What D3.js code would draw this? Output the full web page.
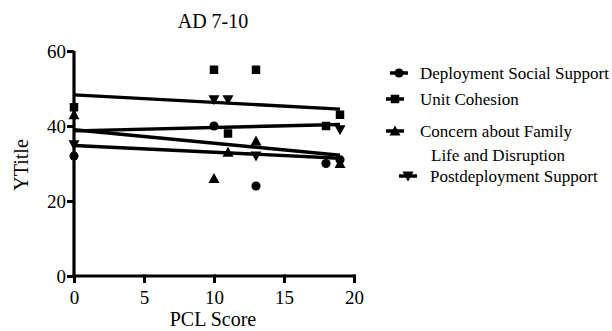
<!DOCTYPE html>
<html>
<head>
<meta charset="utf-8">
<script src="https://cdn.jsdelivr.net/npm/d3@7"></script>
<style>
  body { margin: 0; background: #fff; }
  svg { display: block; font-family: "Liberation Serif", "Times New Roman", serif; }
</style>
</head>
<body>
<div id="chart"></div>
<script>
// series names + symbol shapes
var seriesNames = ["Deployment Social Support", "Unit Cohesion", "Concern about Family", "Postdeployment Support"];
var seriesSymbols = ["circle", "square", "triangle", "triangleDown"];

// PCL score (x) and y values
var xDeploy = [0, 10, 13, 18, 19];
var yDeploy = [32, 40, 24, 30, 31];
var xUnit = [0, 10, 11, 13, 18, 19];
var yUnit = [45, 55, 38, 55, 40, 43];
var xConcern = [0, 10, 11, 13, 19];
var yConcern = [43, 26, 33, 36, 30];
var xPost = [0, 10, 11, 13, 19];
var yPost = [35, 47, 47, 32, 39];

// fitted lines, value at x=0 and x=19
var fitX = [0, 19];
var fitDeploy = [38.7, 40.4];
var fitUnit = [48.3, 44.5];
var fitConcern = [39.0, 32.2];
var fitPost = [34.8, 31.4];

var xTicks = [0, 5, 10, 15, 20];
var yTicks = [0, 20, 40, 60];

var width = 612, height = 331;
var svg = d3.select('#chart').append('svg')
    .attr('width', width).attr('height', height);

var x = d3.scaleLinear().domain([0, 20]).range([74, 354]);
var y = d3.scaleLinear().domain([0, 60]).range([276, 51]);

var series = [
    {xs: xDeploy, ys: yDeploy, fit: fitDeploy},
    {xs: xUnit, ys: yUnit, fit: fitUnit},
    {xs: xConcern, ys: yConcern, fit: fitConcern},
    {xs: xPost, ys: yPost, fit: fitPost}
];

function symbolPath(kind) {
    if (kind === "circle") return d3.symbol().type(d3.symbolCircle).size(66)();
    if (kind === "square") return d3.symbol().type(d3.symbolSquare).size(72)();
    if (kind === "triangle") return "M0,-5.5L5.5,4.5L-5.5,4.5Z";
    return "M0,5.5L5.5,-4.5L-5.5,-4.5Z";
}

// axes
var xAxis = svg.append('g')
    .attr('transform', 'translate(0,' + y(0) + ')')
    .call(d3.axisBottom(x).tickValues(xTicks).tickSize(7).tickPadding(8).tickFormat(d3.format('d')));
var yAxis = svg.append('g')
    .attr('transform', 'translate(' + x(0) + ',0)')
    .call(d3.axisLeft(y).tickValues(yTicks).tickSize(7).tickPadding(1).tickFormat(d3.format('d')));

[xAxis, yAxis].forEach(function(g) {
    g.attr('font-family', '"Liberation Serif", serif').attr('font-size', 19);
    g.select('.domain').attr('stroke', '#000').attr('stroke-width', 3.2)
        .attr('d', g === xAxis ? 'M' + (x(0) - 1.5) + ',0H' + (x(20) + 1.5) : 'M0,' + y(60) + 'V' + (y(0) + 1.5));
    g.selectAll('.tick line').attr('stroke', '#000').attr('stroke-width', 3);
    g.selectAll('.tick text').attr('fill', '#000')
        .style('font-family', '"Liberation Serif", serif');
});
xAxis.selectAll('.tick line').attr('y1', -1.5);
yAxis.selectAll('.tick text').attr('dy', '0.36em');

// fit lines
series.forEach(function(s) {
    svg.append('line')
        .attr('x1', x(fitX[0])).attr('y1', y(s.fit[0]))
        .attr('x2', x(fitX[1])).attr('y2', y(s.fit[1]))
        .attr('stroke', '#000').attr('stroke-width', 3.4);
});

// points
series.forEach(function(s, i) {
    svg.selectAll(null)
        .data(s.xs.map(function(d, j) { return [d, s.ys[j]]; }))
        .enter().append('path')
        .attr('d', symbolPath(seriesSymbols[i]))
        .attr('transform', function(d) { return 'translate(' + x(d[0]) + ',' + y(d[1]) + ')'; })
        .attr('fill', '#000');
});

// titles
svg.append('text').attr('x', 213).attr('y', 28).attr('text-anchor', 'middle')
    .style('font-size', '20px').text('AD 7-10');
svg.append('text').attr('x', 213).attr('y', 326).attr('text-anchor', 'middle')
    .style('font-size', '20px').text('PCL Score');
svg.append('text').attr('transform', 'translate(28,165) rotate(-90)').attr('text-anchor', 'middle')
    .style('font-size', '20px').text('YTitle');

// legend
var legendRows = [
    {sx: 390, sy: 73, tx: 420, ty: 79, lines: [seriesNames[0]]},
    {sx: 386, sy: 99, tx: 420, ty: 105, lines: [seriesNames[1]]},
    {sx: 386, sy: 131, tx: 420, ty: 137, lines: [seriesNames[2], "Life and Disruption"]},
    {sx: 399, sy: 176, tx: 430, ty: 182, lines: [seriesNames[3]]}
];
legendRows.forEach(function(r, i) {
    var g = svg.append('g');
    g.append('line').attr('x1', r.sx).attr('x2', r.sx + 18).attr('y1', r.sy).attr('y2', r.sy)
        .attr('stroke', '#000').attr('stroke-width', 3.5);
    g.append('path').attr('d', symbolPath(seriesSymbols[i]))
        .attr('transform', 'translate(' + (r.sx + 9) + ',' + r.sy + ')').attr('fill', '#000');
    r.lines.forEach(function(t, k) {
        g.append('text').attr('x', k === 0 ? r.tx : r.tx + 11).attr('y', r.ty + k * 24)
            .style('font-size', '17px').text(t);
    });
});
</script>
</body>
</html>
